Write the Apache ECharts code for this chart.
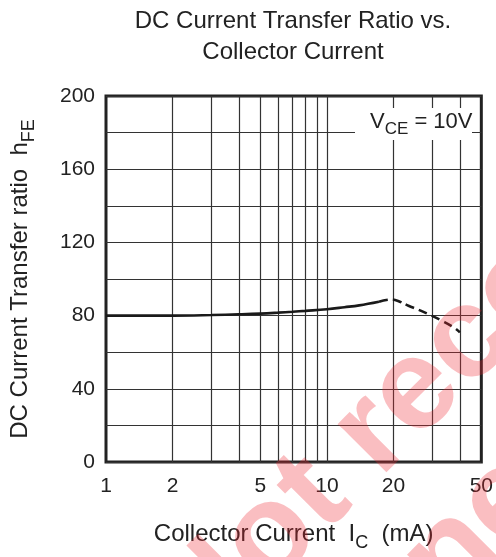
<!DOCTYPE html>
<html>
<head>
<meta charset="utf-8">
<script src="https://cdn.jsdelivr.net/npm/echarts@6/dist/echarts.min.js"></script>
<style>html,body{margin:0;padding:0;background:#fff}#c{width:496px;height:557px}</style>
</head>
<body>
<div id="c"></div>
<script>
// Data
const solidX = [1, 1.5, 2, 3, 4, 5, 6, 7, 8, 10, 12, 14, 17.2];
const solidY = [80, 80, 80, 80.3, 80.7, 81.1, 81.6, 82.1, 82.6, 83.5, 84.6, 85.6, 87.6];
const dashX = [17.2, 19.5, 21, 23.4, 26, 29.5, 33, 37.7, 40];
const dashY = [87.6, 88.8, 88.0, 85.4, 83.2, 80.2, 77.3, 73.4, 70.8];
const xTickLabels = [1, 2, 5, 10, 20, 50];
const xGridValues = [2, 3, 4, 5, 6, 7, 8, 9, 10, 20, 30, 40];
const yLabelStep = 40;

const FONT = 'Liberation Sans, Arial, sans-serif';
const chart = echarts.init(document.getElementById('c'));
const zip = (xs, ys) => xs.map((x, i) => [x, ys[i]]);

chart.setOption({
  backgroundColor: '#fff',
  animation: false,
  title: {
    text: 'DC Current Transfer Ratio vs.\nCollector Current',
    left: 293, top: 6, padding: 0, textAlign: 'center',
    textStyle: { fontFamily: FONT, fontSize: 24, fontWeight: 'normal', color: '#222', lineHeight: 31 }
  },
  grid: { left: 102, right: 12, top: 96, bottom: 88, show: true, borderColor: '#222', borderWidth: 3, backgroundColor: 'transparent' },
  xAxis: {
    type: 'log', logBase: 10, min: 1, max: 50,
    name: '{n|Collector Current  I}{s|C}{n|  (mA)}',
    nameLocation: 'middle', nameGap: 60,
    nameTextStyle: { rich: {
      n: { fontFamily: FONT, fontSize: 24, color: '#222', verticalAlign: 'top', lineHeight: 26 },
      s: { fontFamily: FONT, fontSize: 18, color: '#222', verticalAlign: 'top', lineHeight: 26, padding: [12, 0, 0, 0] }
    } },
    axisLine: { show: false },
    axisTick: { show: false },
    splitLine: { show: false },
    minorSplitLine: { show: false },
    axisLabel: {
      customValues: xTickLabels,
      formatter: v => String(Math.round(v)),
      fontFamily: FONT, fontSize: 21, color: '#222', margin: 14
    }
  },
  yAxis: {
    type: 'value', min: 0, max: 200, interval: 20,
    name: '{n|DC Current Transfer ratio  h}{s|FE}',
    nameLocation: 'middle', nameGap: 72, nameRotate: 90,
    nameTextStyle: { rich: {
      n: { fontFamily: FONT, fontSize: 24, color: '#222', verticalAlign: 'top', lineHeight: 26 },
      s: { fontFamily: FONT, fontSize: 18, color: '#222', verticalAlign: 'top', lineHeight: 26, padding: [12, 0, 0, 0] }
    } },
    axisLine: { show: false },
    axisTick: { show: false },
    splitLine: { show: true, lineStyle: { color: '#333', width: 1.2 } },
    axisLabel: {
      formatter: v => (v % yLabelStep === 0 ? String(v) : ''),
      fontFamily: FONT, fontSize: 21, color: '#222', margin: 11
    }
  },
  series: [
    {
      name: 'grid', type: 'line', data: [[1, 0]], symbol: 'none', z: 1,
      lineStyle: { opacity: 0 }, silent: true,
      markLine: {
        silent: true, symbol: ['none', 'none'], animation: false,
        label: { show: false },
        lineStyle: { color: '#333', width: 1.2, type: 'solid' },
        emphasis: { disabled: true },
        data: xGridValues.map(v => ({ xAxis: v }))
      }
    },
    {
      name: 'solid', type: 'line', data: zip(solidX, solidY), smooth: 0.4, symbol: 'none', z: 5,
      lineStyle: { color: '#1a1a1a', width: 2.6 }
    },
    {
      name: 'dashed', type: 'line', data: zip(dashX, dashY), smooth: 0.4, symbol: 'none', z: 5,
      lineStyle: { color: '#1a1a1a', width: 2.6, type: [9, 5] }
    }
  ],
  graphic: [
    {
      type: 'rect', z: 10, shape: { x: 355, y: 108, width: 117, height: 32 }, style: { fill: '#fff' }
    },
    {
      type: 'text', z: 11, x: 370, y: 111,
      style: {
        text: '{n|V}{s|CE}{n| = 10V}',
        rich: {
          n: { fontFamily: FONT, fontSize: 22, fill: '#222', verticalAlign: 'top', lineHeight: 26 },
          s: { fontFamily: FONT, fontSize: 17, fill: '#222', verticalAlign: 'top', lineHeight: 26, padding: [10, 0, 0, 0] }
        }
      }
    },
    {
      type: 'text', z: 100, x: 176, y: 632, rotation: Math.PI / 4,
      style: {
        text: 'Not recommended',
        font: 'bold 130px Liberation Sans',
        fill: 'rgba(240,40,50,0.3)', verticalAlign: 'middle', align: 'left'
      }
    },
    {
      type: 'text', z: 100, x: 176 + 100, y: 632 + 100, rotation: Math.PI / 4,
      style: {
        text: 'for new design',
        font: 'bold 130px Liberation Sans',
        fill: 'rgba(240,40,50,0.3)', verticalAlign: 'middle', align: 'left'
      }
    }
  ]
});
</script>
</body>
</html>
